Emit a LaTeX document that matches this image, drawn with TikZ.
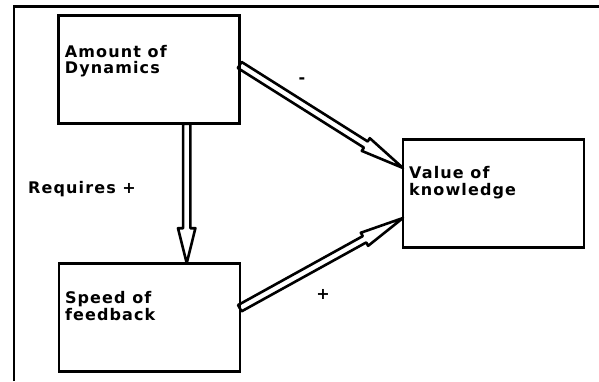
\documentclass[tikz,border=0pt]{standalone}
\usepackage{fontspec}
\setmainfont{DejaVu Sans}
\newfontfamily\spacedfont[LetterSpace=7]{DejaVu Sans}
\usetikzlibrary{calc}

% Hollow double-line arrow: #1 start, #2 tip, #3 head length, #4 half head width
\newcommand\hollowarrow[4]{%
  \path (#1) coordinate (ha-s) (#2) coordinate (ha-e);
  \coordinate (ha-h) at ($(ha-e)!#3!(ha-s)$);
  \draw[hollowshaft]
    ($(ha-s)!3.6pt!90:(ha-e)$) -- ($(ha-h)!3.6pt!90:(ha-e)$)
    -- ($(ha-h)!#4!90:(ha-e)$) -- (ha-e) -- ($(ha-h)!#4!-90:(ha-e)$)
    -- ($(ha-h)!3.6pt!-90:(ha-e)$) -- ($(ha-s)!3.6pt!-90:(ha-e)$) -- cycle;}

\tikzset{
  box/.style={draw, line width=2.6pt, minimum width=181pt, minimum height=108pt,
    outer sep=0pt, inner sep=0pt},
  boxtext/.style={anchor=north west, inner sep=0pt, align=left,
    font=\spacedfont\bfseries\fontsize{16}{16.5}\selectfont},
  sign/.style={anchor=base, inner sep=0pt,
    font=\bfseries\fontsize{16}{16.5}\selectfont},
  hollowshaft/.style={draw, line width=2.6pt, line join=round},
  frame/.style={draw, line width=2.6pt}
}

\begin{document}
\begin{tikzpicture}[x=1pt, y=-1pt]
  \useasboundingbox (0,0) rectangle (599,381);

  % open frame: top and left edges only
  \coordinate (fbl) at (13.8,381);
  \coordinate (ftl) at (13.8,6.2);
  \coordinate (ftr) at (599,6.2);
  \draw[frame] (fbl) -- (ftl) -- (ftr);

  % boxes
  \node[box] (amt) at (149.2,69.7) {};
  \node[box] (spd) at (149.3,317.2) {};
  \node[box] (val) at (493.5,193.5) {};

  \node[boxtext] (amttxt) at ([xshift=6pt,yshift=-29pt]amt.north west) {Amount of\\Dynamics};
  \node[boxtext] (spdtxt) at ([xshift=6pt,yshift=-28pt]spd.north west) {Speed of\\feedback};
  \node[boxtext] (valtxt) at ([xshift=6pt,yshift=-27pt]val.north west) {Value of\\knowledge};

  % connectors
  \hollowarrow{[yshift=4.7pt]amt.east}{[yshift=25.5pt]val.west}{44pt}{7.5pt}
  \hollowarrow{[yshift=9pt]spd.east}{[yshift=-24.5pt]val.west}{44pt}{7.5pt}
  \hollowarrow{[xshift=37.5pt]amt.south}{[xshift=37.4pt]spd.north}{35pt}{8.7pt}

  % labels
  \node[sign, anchor=base west, font=\spacedfont\bfseries\fontsize{16}{16.5}\selectfont] (req) at (28,193.5) {Requires +};
  \node[sign] (minus) at (302,83.5) {-};
  \node[sign] (plus) at (323,299.4) {+};
\end{tikzpicture}
\end{document}
